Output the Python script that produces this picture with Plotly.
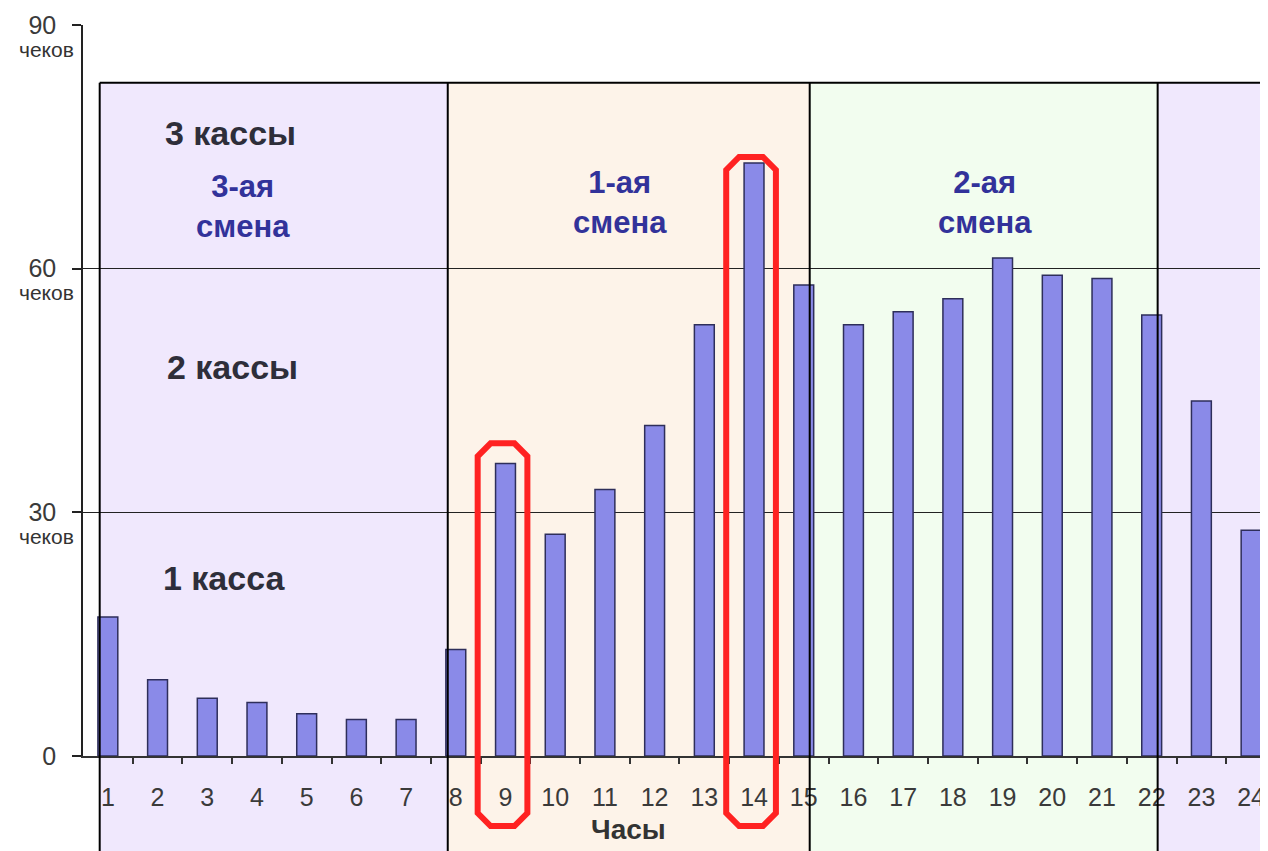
import plotly.graph_objects as go

hours = list(range(1, 25))
checks = [17.1, 9.4, 7.1, 6.6, 5.2, 4.5, 4.5, 13.1, 36.0, 27.3, 32.8, 40.7,
          53.1, 73.0, 58.0, 53.1, 54.7, 56.3, 61.3, 59.2, 58.8, 54.3, 43.7, 27.8]
y_ticks = [0, 30, 60, 90]
y_tick_text = ["0", "30", "60", "90"]
unit_label = "чеков"

# shift zones: (x start, x end, fill colour)
zones = [(0.836, 7.838, "#F0E8FD"), (7.838, 15.12, "#FDF3E9"),
         (15.12, 22.12, "#F2FDEF"), (22.12, 24.25, "#F0E8FD")]
zone_top = 82.9
zone_edges = [0.836, 7.838, 15.12, 22.12, 24.25]

shift_labels = [("3-ая<br>смена", 3.72, 67.6), ("1-ая<br>смена", 11.3, 68.2),
                ("2-ая<br>смена", 18.64, 68.2)]
cashier_labels = [("3 кассы", 3.46, 76.7), ("2 кассы", 3.5, 47.9), ("1 касса", 3.35, 21.9)]

highlight = [(9, 38.5), (14, 73.75)]  # hour, box top value

YMAX = 90.0
PLOT_H = 731.0
PLOT_W = 1185.0
FONT = "Liberation Sans, Arial, sans-serif"

fig = go.Figure()
fig.add_trace(go.Bar(
    x=hours, y=checks, width=0.4,
    marker=dict(color="#8A8AE8", line=dict(color="#2E2E5A", width=1.5)),
    hoverinfo="x+y",
))

shapes = []
for x0, x1, col in zones:
    shapes.append(dict(type="rect", xref="x", yref="paper", x0=x0, x1=x1,
                       y0=-0.3, y1=zone_top / YMAX, fillcolor=col,
                       line=dict(width=0), layer="below"))
for xe in zone_edges:
    shapes.append(dict(type="line", xref="x", yref="paper", x0=xe, x1=xe,
                       y0=-0.3, y1=zone_top / YMAX,
                       line=dict(color="#000000", width=2), layer="above"))
shapes.append(dict(type="line", xref="x", yref="paper", x0=zone_edges[0], x1=zone_edges[-1],
                   y0=zone_top / YMAX, y1=zone_top / YMAX,
                   line=dict(color="#000000", width=2), layer="below"))

cx = 0.26
cy = 13 / PLOT_H
bottom = -70 / PLOT_H
for h, top in highlight:
    xc = h - 0.06
    x0, x1 = xc - 0.5, xc + 0.5
    t = top / YMAX
    path = (f"M {x0} {bottom + cy} L {x0} {t - cy} L {x0 + cx} {t} L {x1 - cx} {t} "
            f"L {x1} {t - cy} L {x1} {bottom + cy} L {x1 - cx} {bottom} "
            f"L {x0 + cx} {bottom} Z")
    shapes.append(dict(type="path", xref="x", yref="paper", path=path,
                       line=dict(color="#FF2222", width=6), layer="above"))

annotations = []
for txt, x, y in cashier_labels:
    annotations.append(dict(text=f"<b>{txt}</b>", x=x, y=y, xref="x", yref="y",
                            showarrow=False, font=dict(family=FONT, size=34, color="#2E2E3A")))
for txt, x, y in shift_labels:
    annotations.append(dict(text=f"<b>{txt}</b>", x=x, y=y, xref="x", yref="y",
                            showarrow=False, font=dict(family=FONT, size=31, color="#32329A")))
for v in y_ticks[1:]:
    annotations.append(dict(text=unit_label, x=0, y=v, xref="paper", yref="y",
                            xanchor="right", yanchor="middle", xshift=-7, yshift=-24,
                            showarrow=False, font=dict(family=FONT, size=21, color="#333333")))
annotations.append(dict(text="<b>Часы</b>", x=(628 - 83) / PLOT_W, y=-73 / PLOT_H,
                        xref="paper", yref="paper", xanchor="center", yanchor="middle",
                        showarrow=False,
                        font=dict(family=FONT, size=28, color="#333333")))

# page body keeps an 8px margin, so the figure is sized to sit inside the window
fig.update_layout(
    width=1260, height=843,
    margin=dict(l=75, r=0, t=17, b=95, autoexpand=False),
    paper_bgcolor="white", plot_bgcolor="rgba(0,0,0,0)",
    showlegend=False,
    shapes=shapes, annotations=annotations,
    font=dict(family=FONT),
    xaxis=dict(
        range=[0.5, 24.34], tickmode="array", tickvals=hours,
        ticktext=[str(h) for h in hours], ticks="", showgrid=False,
        showline=True, linecolor="#333333", linewidth=1.5,
        tickfont=dict(family=FONT, size=25, color="#3A3A3A"),
        ticklabelstandoff=18, automargin=False,
        minor=dict(tickmode="array", tickvals=[h + 0.5 for h in hours[:-1]],
                   ticks="outside", ticklen=6, tickwidth=1.5, tickcolor="#333333"),
        fixedrange=True, zeroline=False,
    ),
    yaxis=dict(
        range=[0, YMAX], tickmode="array", tickvals=y_ticks, ticktext=y_tick_text,
        ticks="outside", ticklen=9, tickwidth=1.5, tickcolor="#222222",
        showgrid=True, gridcolor="#222222", gridwidth=1.2,
        showline=True, linecolor="#222222", linewidth=1.5, zeroline=False,
        tickfont=dict(family=FONT, size=25, color="#3A3A3A"),
        ticklabelstandoff=11, fixedrange=True, automargin=False,
    ),
)

fig.write_html("out.html")
